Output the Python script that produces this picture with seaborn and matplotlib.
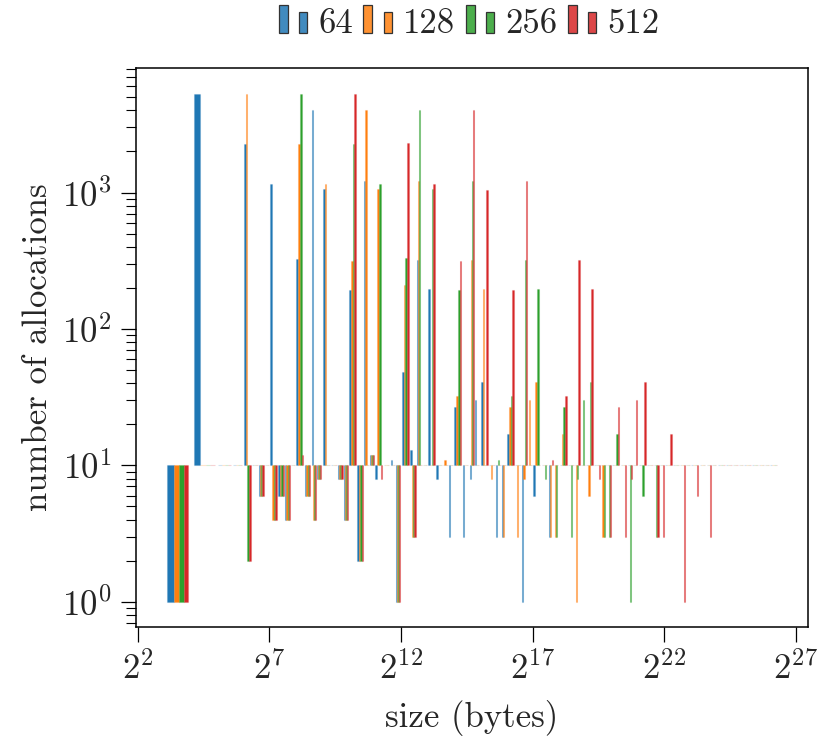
import numpy as np
import matplotlib
matplotlib.use('Agg')
import matplotlib.pyplot as plt
import seaborn as sns
from matplotlib.patches import Rectangle, Patch
from matplotlib.colors import to_rgba

# size classes (bin left edges, bytes): 8..112, then four classes per octave up to 2^26
small_sizes = [8, 16, 32, 48, 64, 80, 96, 112]
octaves = list(range(7, 26))
steps = [1.0, 1.25, 1.5, 1.75]
sizes = small_sizes + [2**k * f for k in octaves for f in steps] + [2**26]
last_edge = 2**26 * 1.25

series = ['64', '128', '256', '512']

# allocations per size class; rows: small classes, then two octaves per row (2^7 .. 2^26)
counts_64 = [
    1, 5250, 0, 0, 2270, 0, 6, 0,
    1160, 6, 4, 0, 324, 6, 4060, 8,
    1060, 0, 8, 4, 193, 2, 1210, 12,
    8, 0, 11, 1, 48, 13, 320, 0,
    195, 8, 0, 3, 27, 3, 8, 30,
    41, 0, 3, 3, 17, 0, 1, 0,
    6, 0, 3, 0, 0, 0, 0, 0,
    0, 0, 0, 0, 0, 0, 0, 0,
    0, 0, 0, 0, 0, 0, 0, 0,
    0, 0, 0, 0, 0, 0, 0, 0,
    0, 0, 0, 0, 0,
]
counts_128 = [
    1, 0, 0, 0, 5250, 0, 6, 0,
    4, 6, 4, 0, 2270, 6, 4, 8,
    1150, 0, 8, 4, 315, 2, 4060, 12,
    1070, 0, 0, 1, 210, 3, 1210, 0,
    0, 0, 11, 0, 32, 0, 318, 0,
    195, 8, 0, 3, 27, 3, 8, 30,
    41, 0, 3, 3, 17, 0, 1, 0,
    6, 0, 3, 0, 0, 0, 0, 0,
    0, 0, 0, 0, 0, 0, 0, 0,
    0, 0, 0, 0, 0, 0, 0, 0,
    0, 0, 0, 0, 0,
]
counts_256 = [
    1, 0, 0, 0, 2, 0, 6, 0,
    4, 6, 4, 0, 5250, 6, 4, 8,
    0, 0, 8, 4, 2270, 2, 0, 12,
    1160, 0, 0, 1, 329, 3, 4060, 0,
    1060, 0, 0, 0, 193, 0, 1210, 0,
    0, 0, 11, 0, 32, 0, 318, 0,
    195, 8, 0, 3, 27, 3, 8, 30,
    41, 0, 3, 3, 17, 0, 1, 0,
    6, 0, 3, 0, 0, 0, 0, 0,
    0, 0, 0, 0, 0, 0, 0, 0,
    0, 0, 0, 0, 0,
]
counts_512 = [
    1, 0, 0, 0, 2, 0, 6, 0,
    4, 6, 4, 0, 12, 6, 4, 8,
    0, 0, 8, 4, 5250, 2, 0, 12,
    8, 0, 0, 1, 2290, 3, 0, 0,
    1150, 0, 0, 0, 315, 0, 4060, 0,
    1050, 0, 0, 0, 193, 0, 1210, 0,
    0, 0, 11, 0, 32, 0, 318, 0,
    195, 8, 0, 3, 27, 3, 8, 30,
    41, 0, 3, 3, 17, 0, 1, 0,
    6, 0, 3, 0, 0, 0, 0, 0,
    0, 0, 0, 0, 0,
]
all_counts = [counts_64, counts_128, counts_256, counts_512]

sns.set_style('ticks')
plt.rcParams['font.family'] = ['cmr10', 'DejaVu Serif']
plt.rcParams['mathtext.fontset'] = 'cm'
plt.rcParams['axes.formatter.use_mathtext'] = True
plt.rcParams['axes.unicode_minus'] = False

colors = sns.color_palette('tab10')[:4]
fs = 25

fig = plt.figure(figsize=(8.31, 7.52), dpi=100)
ax = fig.add_axes([136 / 831, 1 - 627 / 752, (808 - 136) / 831, (627 - 68) / 752])

left = np.array(sizes, dtype=float)
gap = np.append(left[1:], last_edge) - left
base = 10
for j, (counts, color) in enumerate(zip(all_counts, colors)):
    c = np.array(counts, dtype=float)
    heights = np.where(c > 0, c - base, 0)
    ax.bar(left + gap * (0.1 + 0.2 * j), heights, width=gap * 0.2, bottom=base,
           align='edge', color=color, edgecolor=to_rgba(color, 0.2), linewidth=0.8)

ax.set_xscale('log', base=2)
ax.set_yscale('log')
ax.set_xlim(2**1.943, 2**27.46)
ax.set_ylim(10**-0.185, 10**3.913)
exps = [2, 7, 12, 17, 22, 27]
ax.set_xticks([2**e for e in exps])
ax.set_xticklabels([r'$2^{%d}$' % e for e in exps])
ax.xaxis.set_minor_locator(matplotlib.ticker.NullLocator())
ax.tick_params(axis='both', which='major', direction='out', length=10.5, width=0.9,
               labelsize=fs, color='black', pad=7)
ax.tick_params(axis='y', which='minor', direction='out', length=7, width=0.8, color='black')
for s in ax.spines.values():
    s.set_linewidth(1.1)
    s.set_color('black')

ax.set_xlabel('size (bytes)', fontsize=fs, labelpad=10)
ax.set_ylabel('number of allocations', fontsize=fs, labelpad=6)


class TwoBoxes:
    def legend_artist(self, legend, orig_handle, fontsize, handlebox):
        x0, y0 = handlebox.xdescent, handlebox.ydescent
        fc = orig_handle.get_facecolor()
        tr = handlebox.get_transform()
        tall = Rectangle((-x0, -y0), 6.5, 20, facecolor=fc, edgecolor='#333333', lw=0.9, transform=tr)
        short = Rectangle((-x0 + 14.5, -y0), 6.1, 15, facecolor=fc, edgecolor='#333333', lw=0.9, transform=tr)
        handlebox.add_artist(tall)
        handlebox.add_artist(short)
        return tall


handles = [Patch(facecolor=to_rgba(c, 0.85)) for c in colors]
fig.legend(handles, series, handler_map={Patch: TwoBoxes()}, loc='center',
           bbox_to_anchor=(469 / 831, 1 - 24 / 752), ncol=4, frameon=False, fontsize=25,
           handlelength=0.84, handletextpad=0.3, columnspacing=0.3)

fig.savefig('out.png', dpi=100)
